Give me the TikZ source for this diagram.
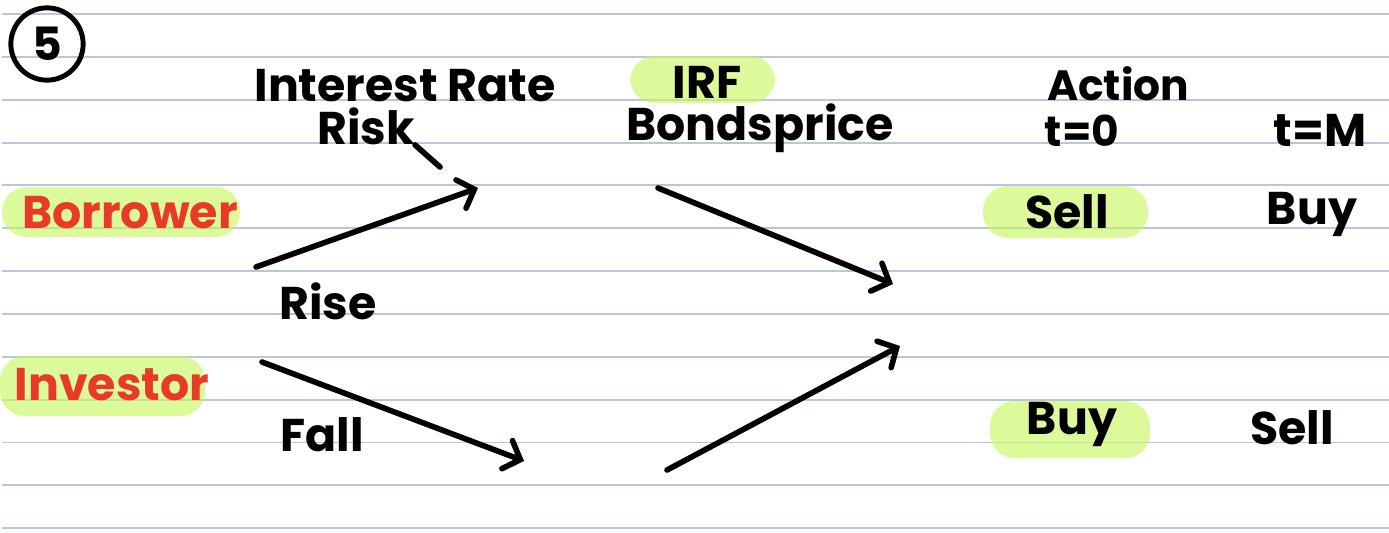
\documentclass[tikz,border=0pt]{standalone}
\usepackage{fontspec}
\setmainfont{Poppins}
\usetikzlibrary{arrows.meta}
\definecolor{rulecol}{RGB}{183,199,224}
\definecolor{hilite}{RGB}{197,247,88}
\definecolor{redink}{RGB}{232,58,40}
\newcommand{\fsz}[1]{\fontsize{#1}{#1}\selectfont\bfseries}
\begin{document}
\begin{tikzpicture}[x=0.567pt,y=-0.567pt,
  lbl/.style={inner sep=0pt, text=black},
  redlbl/.style={inner sep=0pt, text=redink},
  pen/.style={line width=3.2pt, line cap=round, line join=round, black},
  arr/.style={pen, -{Straight Barb[length=8pt,width=17pt,line cap=round]}},
  marker/.style={fill=hilite, fill opacity=0.6, rounded corners=14pt},
  ruling/.style={rulecol, line width=1.1pt}]
\useasboundingbox (0,0) rectangle (1389,532);
\fill[white] (0,0) rectangle (1389,532);
% ruled paper
\foreach \i in {0,...,12}
  \draw[ruling] (2,14+42.85*\i) -- (1389,14+42.85*\i);
% highlighter marks
\fill[marker] (2,187) rectangle (240,237);
\fill[marker] (0,356) rectangle (205,416);
\fill[marker] (630,56) rectangle (775,103);
\fill[marker] (983,186) rectangle (1148,238);
\fill[marker] (990,401) rectangle (1150,458);
% question number
\node[circle, draw, line width=2.8pt, minimum size=41pt, inner sep=0pt,
      font=\fsz{26}] (five) at (47,44) {5};
% headings
\node[lbl, font=\fsz{26}] (irr) at (405,86) {Interest Rate};
\node[lbl, font=\fsz{26}] (risk) at (366,126) {Risk};
\node[lbl, font=\fsz{26}] (irf) at (707,82) {IRF};
\node[lbl, font=\fsz{26}] (bp) at (760,128) {Bondsprice};
\node[lbl, font=\fsz{24}] (action) at (1118,84) {Action};
\node[lbl, font=\fsz{24}] (t0) at (1082,131) {t=0};
\node[lbl, font=\fsz{26}] (tm) at (1320,130) {t=M};
% parties
\node[redlbl, font=\fsz{26}] (borrower) at (130,213) {Borrower};
\node[redlbl, font=\fsz{26}] (investor) at (112,385) {Investor};
% rate moves
\node[lbl, font=\fsz{26}] (rise) at (328,301) {Rise};
\node[lbl, font=\fsz{26}] (fall) at (322,435) {Fall};
% actions
\node[lbl, font=\fsz{26}] (sell0) at (1067,212) {Sell};
\node[lbl, font=\fsz{26}] (buyM) at (1312,214) {Buy};
\node[lbl, font=\fsz{26}] (buy0) at (1072,424) {Buy};
\node[lbl, font=\fsz{26}] (sellM) at (1292,428) {Sell};
% arrow end points
\coordinate (riseA) at (256,267);
\coordinate (riseB) at (478,188);
\coordinate (fallA) at (262,362);
\coordinate (fallB) at (524,461);
\coordinate (upA) at (658,188);
\coordinate (upB) at (893,284);
\coordinate (dnA) at (667,470);
\coordinate (dnB) at (900,346);
\coordinate (tail) at (440,167);
% connectors
\draw[pen] (risk.south east) -- (tail);
\draw[arr] (riseA) -- (riseB);
\draw[arr] (fallA) -- (fallB);
\draw[arr] (upA) -- (upB);
\draw[arr] (dnA) -- (dnB);
\end{tikzpicture}
\end{document}
